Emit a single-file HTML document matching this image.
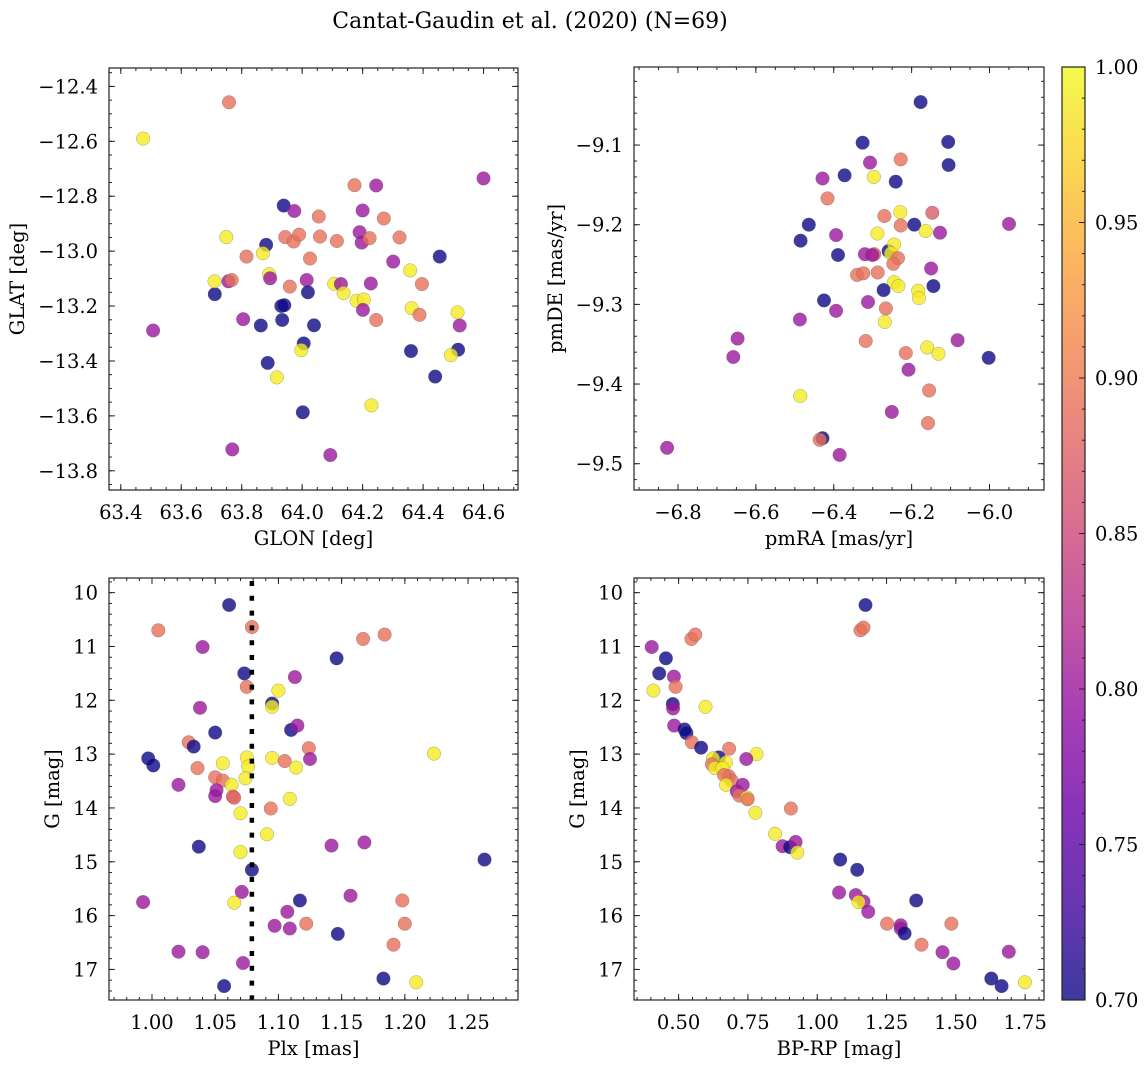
<!DOCTYPE html>
<html><head><meta charset="utf-8">
<style>
html,body{margin:0;padding:0;background:#fff;}
svg{display:block;font-family:"DejaVu Serif","Liberation Serif",serif;}
</style></head>
<body>
<svg id="fig" width="1148" height="1067" viewBox="0 0 1148 1067" xmlns="http://www.w3.org/2000/svg">
<defs>
<linearGradient id="plasma" x1="0" y1="1" x2="0" y2="0">
<stop offset="0" stop-color="#0d0887"/><stop offset="0.1" stop-color="#41049d"/><stop offset="0.2" stop-color="#6a00a8"/><stop offset="0.3" stop-color="#8f0da4"/><stop offset="0.4" stop-color="#b12a90"/><stop offset="0.5" stop-color="#cc4778"/><stop offset="0.6" stop-color="#e16462"/><stop offset="0.7" stop-color="#f2844b"/><stop offset="0.8" stop-color="#fca636"/><stop offset="0.9" stop-color="#fcce25"/><stop offset="1" stop-color="#f0f921"/>
</linearGradient>
</defs>
<text x="530" y="28" text-anchor="middle" font-size="22">Cantat-Gaudin et al. (2020) (N=69)</text>
</svg>
<script>
// Colour classes: D=0.70 dark, P=0.80 purple, S=0.89 salmon, Y=0.99 yellow
const p1_glon=[63.474,63.758,64.60,63.507,63.749,63.711,63.71,63.756,63.767,63.816,63.805,63.863,63.881,63.87,63.891,63.894,63.886,63.916,63.939,63.944,63.974,63.972,63.99,63.959,63.931,63.941,63.934,64.005,63.997,64.002,64.015,64.019,64.026,64.039,64.055,64.059,64.115,64.106,64.128,64.137,64.093,64.173,64.245,64.20,64.19,64.197,64.223,64.18,64.204,64.201,64.227,64.229,64.245,64.27,64.322,64.301,64.357,64.362,64.396,64.388,64.36,64.455,64.44,64.514,64.521,64.516,64.492,63.769];
const p1_glat=[-12.59,-12.458,-12.735,-13.289,-12.949,-13.157,-13.11,-13.11,-13.105,-13.02,-13.248,-13.271,-12.977,-13.008,-13.084,-13.099,-13.407,-13.46,-12.834,-12.949,-12.854,-12.965,-12.94,-13.129,-13.2,-13.197,-13.251,-13.336,-13.361,-13.587,-13.105,-13.15,-13.027,-13.27,-12.874,-12.947,-12.963,-13.119,-13.12,-13.153,-13.743,-12.76,-12.761,-12.852,-12.931,-12.969,-12.953,-13.181,-13.176,-13.214,-13.118,-13.562,-13.251,-12.881,-12.95,-13.038,-13.07,-13.208,-13.12,-13.232,-13.364,-13.02,-13.457,-13.223,-13.271,-13.359,-13.379,-13.722];
const p1_c=[0.99,0.89,0.80,0.80,0.99,0.70,0.99,0.80,0.89,0.89,0.80,0.70,0.70,0.99,0.99,0.80,0.70,0.99,0.70,0.89,0.80,0.89,0.89,0.89,0.70,0.70,0.70,0.70,0.99,0.70,0.80,0.70,0.89,0.70,0.89,0.89,0.89,0.99,0.80,0.99,0.80,0.89,0.80,0.80,0.80,0.80,0.89,0.99,0.99,0.80,0.80,0.99,0.89,0.89,0.89,0.80,0.99,0.99,0.89,0.89,0.70,0.70,0.70,0.99,0.80,0.70,0.99,0.80];

const p2_pmra=[-6.177,-6.326,-6.106,-6.105,-6.307,-6.228,-6.372,-6.297,-6.429,-6.241,-6.416,-6.229,-6.270,-6.147,-6.228,-6.464,-6.193,-6.164,-6.127,-5.950,-6.485,-6.394,-6.288,-6.389,-6.320,-6.296,-6.301,-6.259,-6.245,-6.253,-6.235,-6.247,-6.340,-6.324,-6.287,-6.150,-6.245,-6.234,-6.272,-6.183,-6.181,-6.144,-6.425,-6.312,-6.394,-6.266,-6.487,-6.269,-6.647,-6.658,-6.318,-6.082,-6.160,-6.131,-6.215,-6.002,-6.208,-6.486,-6.155,-6.251,-6.158,-6.429,-6.436,-6.385,-6.828];
const p2_pmde=[-9.046,-9.097,-9.096,-9.125,-9.122,-9.118,-9.138,-9.140,-9.142,-9.146,-9.167,-9.184,-9.189,-9.185,-9.201,-9.200,-9.200,-9.208,-9.210,-9.199,-9.220,-9.213,-9.211,-9.238,-9.237,-9.237,-9.238,-9.233,-9.225,-9.236,-9.242,-9.249,-9.263,-9.261,-9.260,-9.255,-9.272,-9.277,-9.282,-9.283,-9.292,-9.277,-9.295,-9.297,-9.308,-9.305,-9.319,-9.322,-9.343,-9.366,-9.346,-9.345,-9.354,-9.362,-9.361,-9.367,-9.382,-9.415,-9.408,-9.435,-9.449,-9.468,-9.470,-9.489,-9.480];
const p2_c=[0.70,0.70,0.70,0.70,0.80,0.89,0.70,0.99,0.80,0.70,0.89,0.99,0.89,0.87,0.89,0.70,0.70,0.99,0.80,0.80,0.70,0.80,0.99,0.70,0.80,0.88,0.80,0.70,0.99,0.99,0.89,0.89,0.89,0.89,0.89,0.80,0.99,0.99,0.70,0.99,0.99,0.70,0.70,0.80,0.80,0.89,0.80,0.99,0.80,0.80,0.89,0.80,0.99,0.99,0.89,0.70,0.80,0.99,0.89,0.80,0.89,0.70,0.89,0.80,0.80];

const p3_plx=[1.061,1.005,1.079,1.040,1.167,1.184,1.146,1.073,1.113,1.075,1.100,1.095,1.095,1.038,1.110,1.115,1.050,1.029,1.033,1.124,1.223,1.125,0.997,1.001,1.036,1.056,1.075,1.076,1.095,1.105,1.114,1.050,1.056,1.074,1.021,1.063,1.051,1.050,1.064,1.065,1.109,1.094,1.070,1.091,1.037,1.070,1.142,1.168,1.263,1.079,1.071,1.065,0.993,1.117,1.157,1.198,1.107,1.097,1.109,1.122,1.200,1.147,1.191,1.021,1.040,1.072,1.057,1.183,1.209];
const p3_g=[10.23,10.70,10.64,11.01,10.86,10.78,11.22,11.50,11.57,11.75,11.82,12.06,12.12,12.14,12.55,12.47,12.60,12.78,12.86,12.89,12.99,13.09,13.08,13.21,13.26,13.17,13.06,13.23,13.07,13.13,13.25,13.43,13.49,13.45,13.57,13.57,13.67,13.78,13.79,13.81,13.83,14.01,14.10,14.49,14.72,14.82,14.70,14.64,14.96,15.15,15.56,15.76,15.75,15.72,15.63,15.72,15.93,16.19,16.24,16.15,16.15,16.34,16.54,16.67,16.68,16.88,17.31,17.17,17.24];
const p3_c=[0.70,0.89,0.89,0.80,0.89,0.89,0.70,0.70,0.80,0.89,0.99,0.70,0.99,0.80,0.70,0.80,0.70,0.89,0.70,0.89,0.99,0.80,0.70,0.70,0.89,0.99,0.99,0.99,0.99,0.89,0.99,0.89,0.89,0.99,0.80,0.99,0.80,0.80,0.88,0.88,0.99,0.89,0.99,0.99,0.70,0.99,0.80,0.80,0.70,0.70,0.80,0.99,0.80,0.70,0.80,0.89,0.80,0.80,0.80,0.89,0.89,0.70,0.89,0.80,0.80,0.80,0.70,0.70,0.99];

const p4_bprp=[1.174,1.156,1.167,0.546,0.560,0.403,0.454,0.430,0.483,0.489,0.409,0.479,0.480,0.597,0.484,0.521,0.528,0.548,0.581,0.682,0.781,0.744,0.645,0.624,0.620,0.631,0.670,0.658,0.681,0.691,0.664,0.731,0.671,0.710,0.719,0.747,0.749,0.777,0.905,0.848,0.875,0.902,0.922,0.928,1.083,1.144,1.079,1.139,1.167,1.149,1.184,1.357,1.252,1.301,1.301,1.315,1.376,1.484,1.452,1.491,1.691,1.628,1.665,1.749];
const p4_g=[10.23,10.70,10.65,10.86,10.78,11.01,11.22,11.50,11.56,11.75,11.82,12.07,12.15,12.12,12.47,12.54,12.61,12.78,12.88,12.90,13.00,13.09,13.06,13.08,13.19,13.26,13.16,13.26,13.41,13.49,13.39,13.57,13.57,13.69,13.77,13.81,13.84,14.09,14.01,14.48,14.71,14.73,14.63,14.83,14.96,15.15,15.57,15.62,15.74,15.75,15.93,15.72,16.15,16.18,16.24,16.33,16.54,16.15,16.68,16.89,16.67,17.17,17.31,17.24];
const p4_c=[0.70,0.89,0.89,0.89,0.89,0.80,0.70,0.70,0.80,0.89,0.99,0.70,0.80,0.99,0.80,0.70,0.70,0.89,0.70,0.89,0.99,0.80,0.70,0.99,0.89,0.99,0.99,0.99,0.89,0.89,0.89,0.80,0.99,0.80,0.89,0.99,0.89,0.99,0.89,0.99,0.80,0.70,0.80,0.99,0.70,0.70,0.80,0.80,0.80,0.99,0.80,0.70,0.89,0.80,0.80,0.70,0.89,0.89,0.80,0.80,0.80,0.70,0.70,0.99];

const plxLine=[1.079];
const cbTicks=[0.70,0.75,0.80,0.85,0.90,0.95,1.00];

const NS="http://www.w3.org/2000/svg";
const svg=document.getElementById('fig');
const FS=19.5;
function mk(tag,attrs,parent){const e=document.createElementNS(NS,tag);for(const k in attrs)e.setAttribute(k,attrs[k]);(parent||svg).appendChild(e);return e;}
const stops=[[13,8,135],[65,4,157],[106,0,168],[143,13,164],[177,42,144],[204,71,120],[225,100,98],[242,132,75],[252,166,54],[252,206,37],[240,249,33]];
function plasma(c){let t=(c-0.7)/0.3;t=Math.max(0,Math.min(1,t));const f=t*10;const i=Math.min(9,Math.floor(f));const u=f-i;const a=stops[i],b=stops[i+1];return 'rgb('+a.map((v,k)=>Math.round(v+(b[k]-v)*u)).join(',')+')';}
function fmt(v,d){return (v<0?'\u2212':'')+Math.abs(v).toFixed(d);}

function panel(cfg){
  const g=mk('g',{});
  
  
  const {L,R,T,B,x0,x1,y0,y1}=cfg;
  const sx=v=>L+(v-x0)/(x1-x0)*(R-L);
  const sy=v=>T+(v-y0)/(y1-y0)*(B-T);
  const pg=mk('g',{},g);
  
  
  for(let i=0;i<cfg.xs.length;i++){
    const c=mk('circle',{cx:sx(cfg.xs[i]).toFixed(1),cy:sy(cfg.ys[i]).toFixed(1),r:6.8,fill:plasma(cfg.cs[i]),'fill-opacity':0.8,stroke:'#555','stroke-opacity':0.5,'stroke-width':0.5},pg);
    
    
  }
  if(cfg.vline){for(const v of cfg.vline){const l=mk('line',{x1:sx(v),x2:sx(v),y1:T+3,y2:B,stroke:'#000','stroke-width':4.5,'stroke-dasharray':'5 9.8'},g);
    
    }}
  const fr=mk('rect',{x:L,y:T,width:R-L,height:B-T,fill:'none',stroke:'#222','stroke-width':1.2},g);
  
  
  const tk=mk('g',{stroke:'#222','stroke-width':1},g);
  const eps=1e-9;
  for(let v=Math.ceil((Math.min(x0,x1))/cfg.xmin-eps)*cfg.xmin;v<=Math.max(x0,x1)+eps;v+=cfg.xmin){const X=sx(v);mk('line',{x1:X,x2:X,y1:B,y2:B-3},tk);mk('line',{x1:X,x2:X,y1:T,y2:T+3},tk);}
  for(let v=Math.ceil((Math.min(y0,y1))/cfg.ymin-eps)*cfg.ymin;v<=Math.max(y0,y1)+eps;v+=cfg.ymin){const Y=sy(v);mk('line',{x1:L,x2:L+3,y1:Y,y2:Y},tk);mk('line',{x1:R,x2:R-3,y1:Y,y2:Y},tk);}
  for(const v of cfg.xt){const X=sx(v);mk('line',{x1:X,x2:X,y1:B,y2:B-6},tk);mk('line',{x1:X,x2:X,y1:T,y2:T+6},tk);
    const t=mk('text',{x:X,y:B+29,'text-anchor':'middle','font-size':FS},g);t.textContent=fmt(v,cfg.xd);
    
    }
  for(const v of cfg.yt){const Y=sy(v);mk('line',{x1:L,x2:L+6,y1:Y,y2:Y},tk);mk('line',{x1:R,x2:R-6,y1:Y,y2:Y},tk);
    const t=mk('text',{x:L-11,y:Y+7,'text-anchor':'end','font-size':FS},g);t.textContent=fmt(v,cfg.yd);
    
    }
  const xl=mk('text',{x:(L+R)/2,y:B+55,'text-anchor':'middle','font-size':FS},g);xl.textContent=cfg.xlabel;
  
  
  const yl=mk('text',{x:0,y:0,'text-anchor':'middle','font-size':FS,transform:'translate('+cfg.ylx+','+(T+B)/2+') rotate(-90)'},g);yl.textContent=cfg.ylabel;
  
  
}

panel({name:'panel-glon-glat',L:109,R:518,T:68,B:490,x0:63.361,x1:64.714,y0:-12.333,y1:-13.870,xs:p1_glon,ys:p1_glat,cs:p1_c,
  xt:[63.4,63.6,63.8,64.0,64.2,64.4,64.6],xd:1,yt:[-12.4,-12.6,-12.8,-13.0,-13.2,-13.4,-13.6,-13.8],yd:1,xmin:0.05,ymin:0.05,xlabel:'GLON [deg]',ylabel:'GLAT [deg]',ylx:24});
panel({name:'panel-pmra-pmde',L:634,R:1044,T:67,B:490,x0:-6.913,x1:-5.860,y0:-9.002,y1:-9.533,xs:p2_pmra,ys:p2_pmde,cs:p2_c,
  xt:[-6.8,-6.6,-6.4,-6.2,-6.0],xd:1,yt:[-9.1,-9.2,-9.3,-9.4,-9.5],yd:1,xmin:0.05,ymin:0.02,xlabel:'pmRA [mas/yr]',ylabel:'pmDE [mas/yr]',ylx:562});
panel({name:'panel-plx-g',L:109,R:518,T:578,B:1000,x0:0.966,x1:1.2895,y0:9.728,y1:17.568,xs:p3_plx,ys:p3_g,cs:p3_c,vline:plxLine,
  xt:[1.00,1.05,1.10,1.15,1.20,1.25],xd:2,yt:[10,11,12,13,14,15,16,17],yd:0,xmin:0.01,ymin:0.2,xlabel:'Plx [mas]',ylabel:'G [mag]',ylx:59});
panel({name:'panel-color-magnitude',L:634,R:1044,T:578,B:1000,x0:0.339,x1:1.818,y0:9.728,y1:17.568,xs:p4_bprp,ys:p4_g,cs:p4_c,
  xt:[0.50,0.75,1.00,1.25,1.50,1.75],xd:2,yt:[10,11,12,13,14,15,16,17],yd:0,xmin:0.05,ymin:0.2,xlabel:'BP-RP [mag]',ylabel:'G [mag]',ylx:584});

(function(){
  const g=mk('g',{});
  
  
  const L=1062,R=1085,T=67,B=1000,v0=0.70,v1=1.00;
  const sy=v=>B-(v-v0)/(v1-v0)*(B-T);
  mk('rect',{x:L,y:T,width:R-L,height:B-T,fill:'url(#plasma)','fill-opacity':0.8},g);
  mk('rect',{x:L,y:T,width:R-L,height:B-T,fill:'none',stroke:'#222','stroke-width':1.2},g);
  for(let v=v0;v<=v1+1e-9;v+=0.01){const Y=sy(v);mk('line',{x1:R,x2:R-3,y1:Y,y2:Y,stroke:'#222'},g);}
  for(const v of cbTicks){const Y=sy(v);mk('line',{x1:R,x2:R-6,y1:Y,y2:Y,stroke:'#222'},g);
    const t=mk('text',{x:R+10,y:Y+7,'font-size':FS},g);t.textContent=v.toFixed(2);
    
    }
})();
</script>
</body></html>
